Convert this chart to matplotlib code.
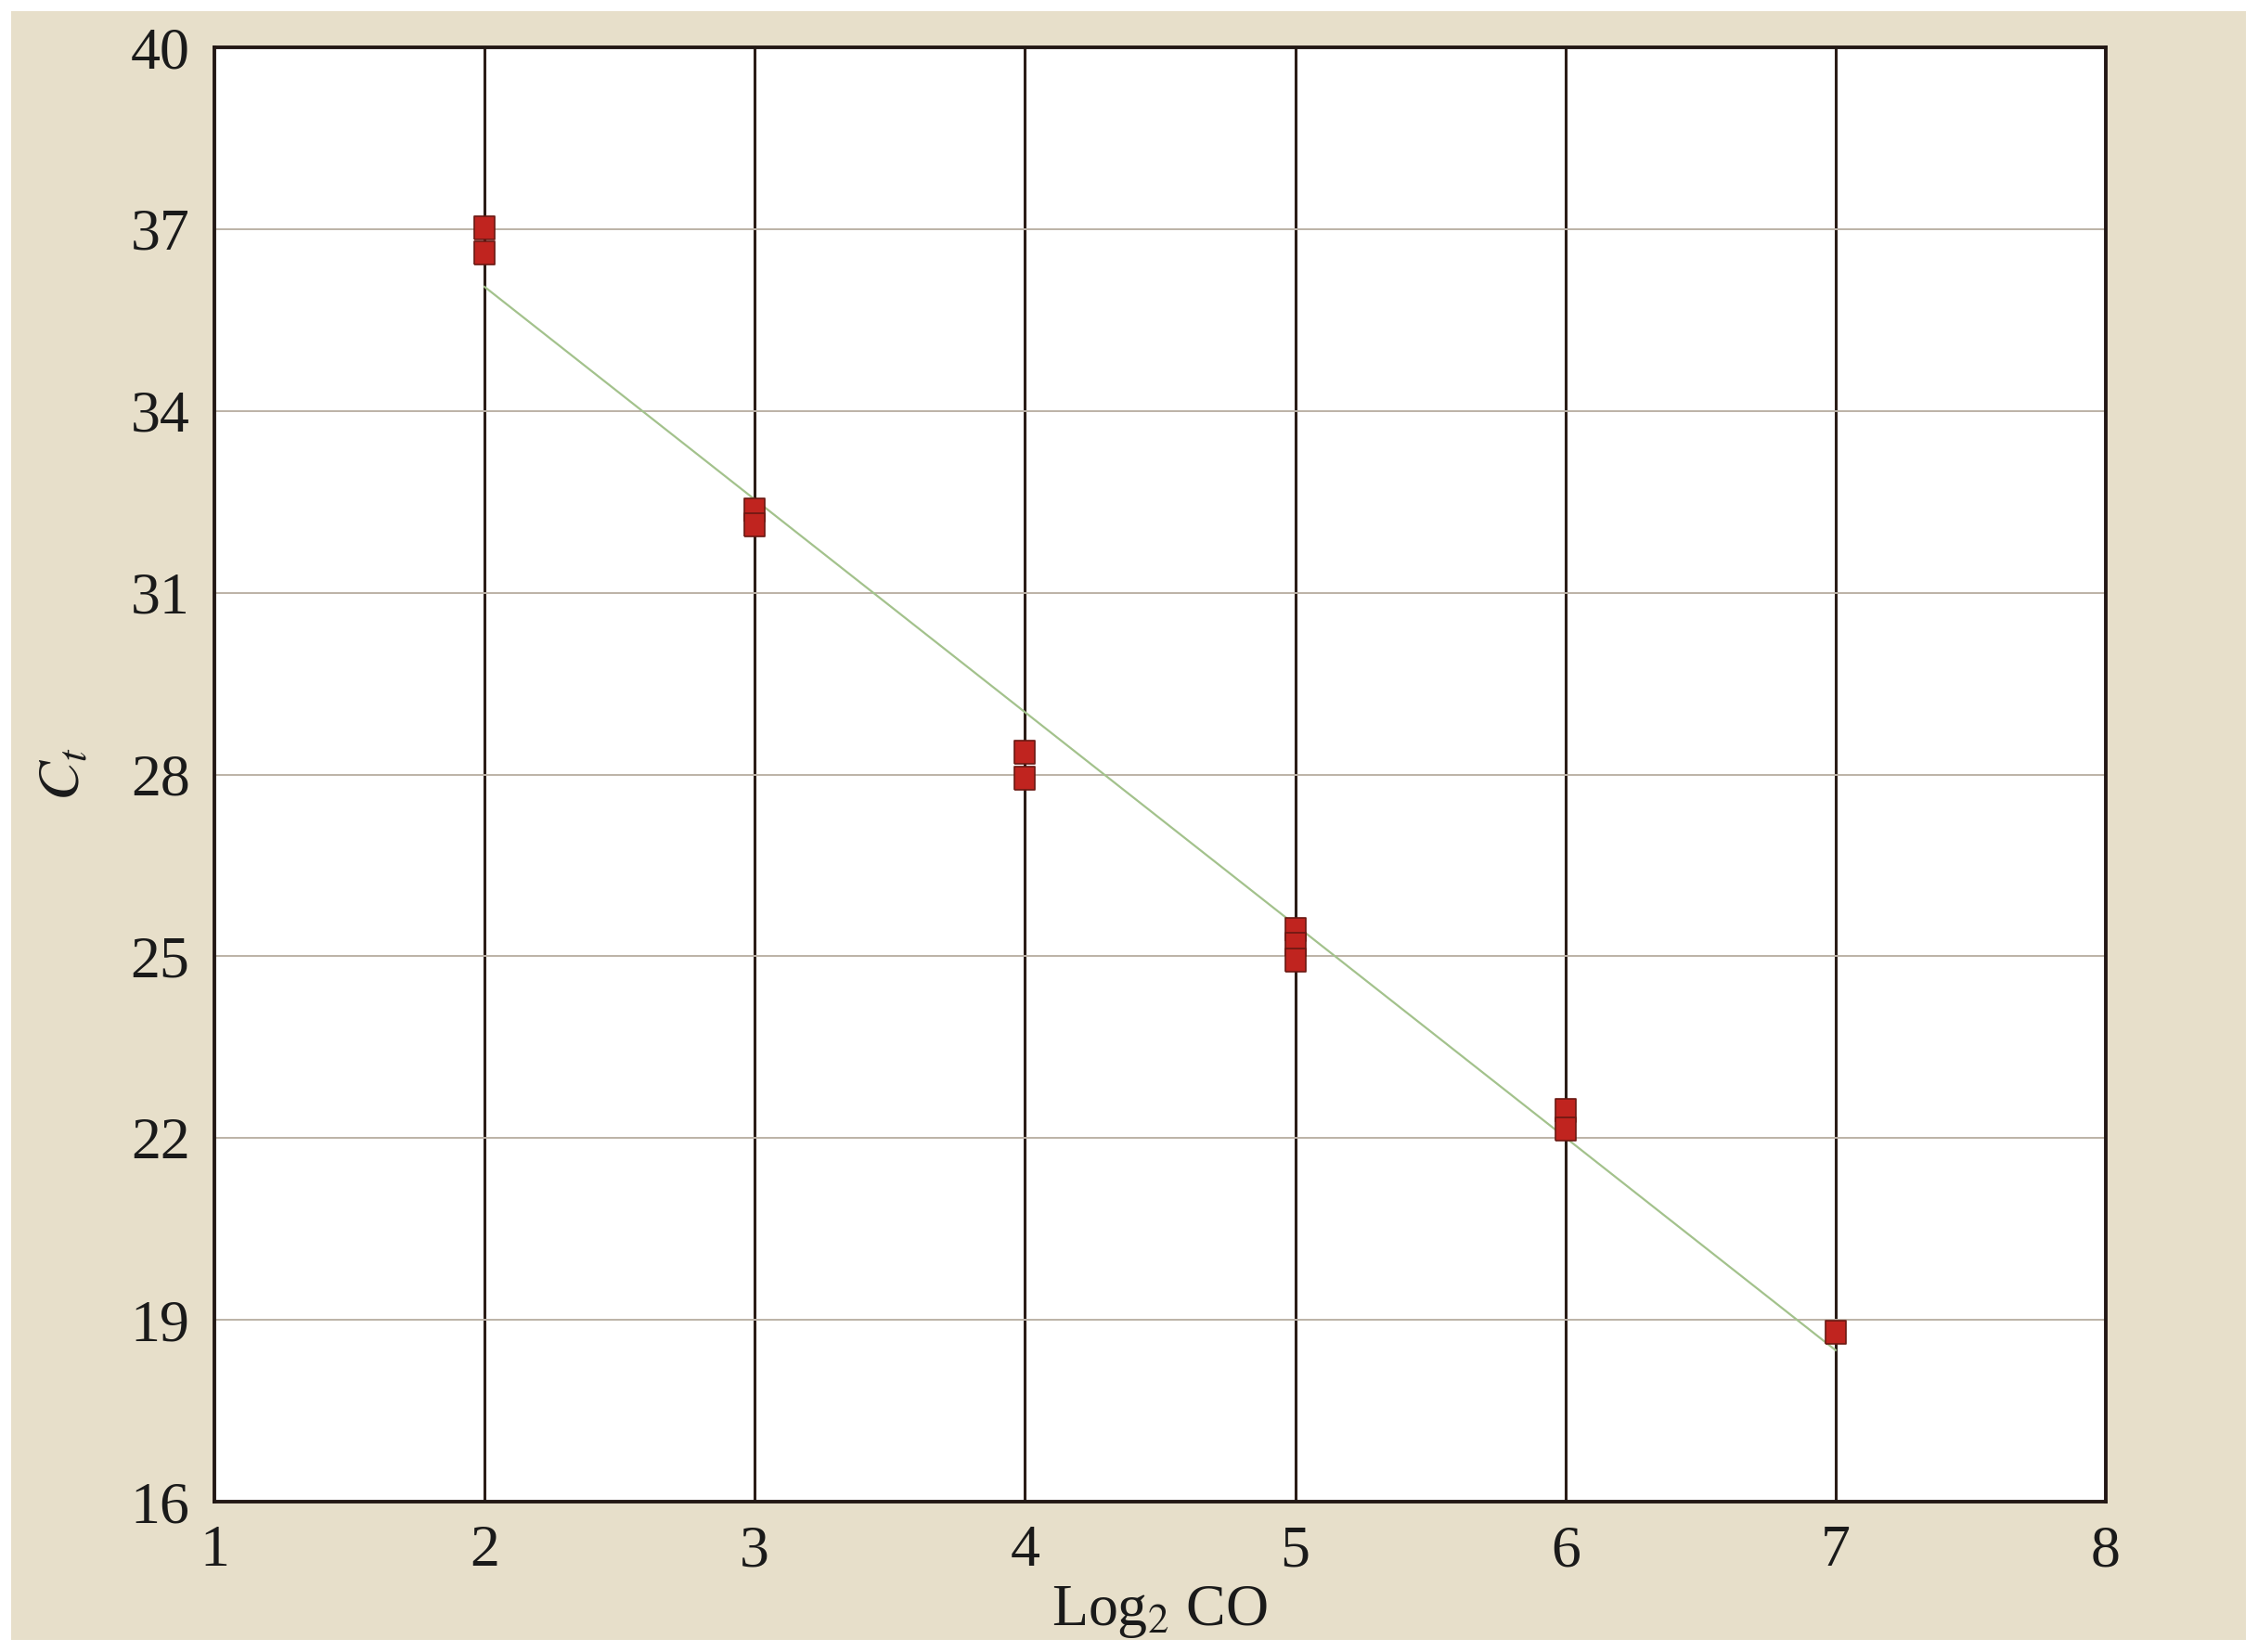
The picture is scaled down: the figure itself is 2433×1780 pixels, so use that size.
import matplotlib
matplotlib.use('Agg')
import matplotlib.pyplot as plt
from matplotlib.patches import Rectangle

# measured replicate Ct values per log2 concentration
log2_co = [2, 2, 3, 3, 4, 4, 5, 5, 5, 6, 6, 7]
ct_vals = [37.03, 36.62, 32.37, 32.13, 28.38, 27.95, 25.45, 25.2, 24.95, 22.47, 22.16, 18.81]

# regression line end points as drawn
fit_x = [2, 7]
fit_y = [36.05, 18.5]

x_ticks = [1, 2, 3, 4, 5, 6, 7, 8]
y_ticks = [16, 19, 22, 25, 28, 31, 34, 37, 40]

plt.rcParams['font.family'] = ['Liberation Serif', 'DejaVu Serif']
plt.rcParams['mathtext.fontset'] = 'stix'

fig = plt.figure(figsize=(24.33, 17.80), dpi=100, facecolor='white')
# beige panel behind the chart
fig.add_artist(Rectangle((0.0049, 0.0073), 0.9897, 0.986, transform=fig.transFigure,
                         facecolor='#e7dfca', edgecolor='none', zorder=-5))

ax = fig.add_axes([0.0949, 0.0910, 0.8377, 0.8803])
ax.set_zorder(2)
ax.set_facecolor('white')

for x in x_ticks[1:-1]:
    ax.axvline(x, color='#2b1d17', lw=2.2, zorder=1)
for y in y_ticks[1:-1]:
    ax.axhline(y, color='#bcb2a6', lw=1.4, zorder=1)

ax.plot(fit_x, fit_y, color='#a3c28c', lw=1.6, zorder=2)

rect_marker = [(-0.44, -0.5), (0.44, -0.5), (0.44, 0.5), (-0.44, 0.5), (-0.44, -0.5)]
ax.plot(log2_co, ct_vals, linestyle='None', marker=rect_marker, markersize=18,
        markerfacecolor='#c0241f', markeredgecolor='#6a1812', markeredgewidth=1.2, zorder=3)

ax.set_xlim(1, 8)
ax.set_ylim(16, 40)
ax.set_xticks(x_ticks)
ax.set_yticks(y_ticks)
ax.tick_params(length=0, labelsize=46, pad=18, colors='#1a1a1a')
ax.tick_params(axis='y', pad=19)

for s in ax.spines.values():
    s.set_linewidth(2.8)
    s.set_color('#231815')

ax.set_xlabel('Log$_2$ CO', fontsize=46, labelpad=4, color='#1a1a1a')
ax.set_ylabel('$C_t$', fontsize=46, labelpad=30, color='#1a1a1a')

fig.savefig('out.png', dpi=100, facecolor='white')
